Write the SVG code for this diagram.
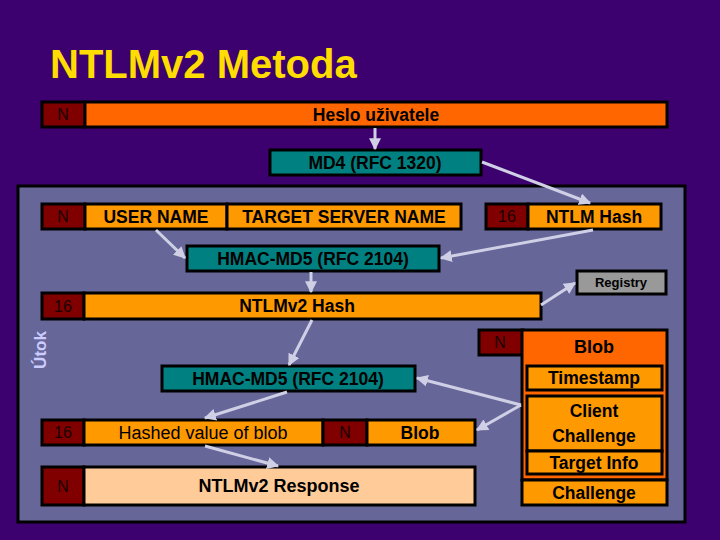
<svg xmlns="http://www.w3.org/2000/svg" width="720" height="540" viewBox="0 0 720 540">
<defs>
<marker id="ah" viewBox="0 0 10 10" refX="9" refY="5" markerWidth="4" markerHeight="4" orient="auto" markerUnits="strokeWidth">
<path d="M0,0 L10,5 L0,10 z" fill="#cfcfe6"/>
</marker>
<style>
.bx{stroke:#000;stroke-width:3}
.dr{fill:#800000}
.or{fill:#ff9900}
.oo{fill:#ff6600}
.tl{fill:#008080}
.gr{fill:#999999}
.pk{fill:#ffcc99}
text{font-family:"Liberation Sans",Arial,sans-serif;text-anchor:middle;dominant-baseline:central}
.b{font-weight:bold;font-size:17.5px;fill:#000}
.n{font-size:16px;fill:#1a0000}
.r{font-size:18px;fill:#000}
.c line{stroke:#cfcfe6;stroke-width:3;marker-end:url(#ah)}
</style>
</defs>
<rect width="720" height="540" fill="#3d006f"/>
<text x="50" y="78" style="font-size:40px;font-weight:bold;fill:#ffdd00;text-anchor:start;dominant-baseline:auto">NTLMv2 Metoda</text>

<g id="panel"><rect x="18" y="186" width="667" height="336" fill="#666699" class="bx"/>
<text transform="translate(40,350) rotate(-90)" style="font-size:17px;font-weight:bold;fill:#ccccff">Útok</text></g>

<g id="heslo">
<rect x="42" y="102" width="43" height="25" class="bx dr"/><text x="63" y="114.5" class="n">N</text>
<rect x="85" y="102" width="582" height="25" class="bx oo"/><text x="376" y="114.5" class="b">Heslo uživatele</text>
</g>
<g id="md4"><rect x="270" y="150" width="211" height="25" class="bx tl"/><text x="375" y="162.5" class="b">MD4 (RFC 1320)</text></g>

<g id="user">
<rect x="42" y="204" width="43" height="25" class="bx dr"/><text x="63" y="216.5" class="n">N</text>
<rect x="85" y="204" width="142" height="25" class="bx or"/><text x="156" y="216.5" class="b">USER NAME</text>
<rect x="227" y="204" width="234" height="25" class="bx or"/><text x="344" y="216.5" class="b">TARGET SERVER NAME</text>
</g>
<g id="ntlmhash">
<rect x="486" y="204" width="42" height="25" class="bx dr"/><text x="507" y="216.5" class="n">16</text>
<rect x="528" y="204" width="133" height="25" class="bx or"/><text x="594" y="216.5" class="b">NTLM Hash</text>
</g>
<g id="hmac1"><rect x="187" y="246" width="252" height="25" class="bx tl"/><text x="313" y="258.5" class="b">HMAC-MD5 (RFC 2104)</text></g>
<g id="registry"><rect x="577" y="271" width="89" height="23" class="bx gr"/><text x="621" y="282.5" style="font-size:13px;font-weight:bold;fill:#000">Registry</text></g>
<g id="ntlmv2hash">
<rect x="42" y="293" width="42" height="26" class="bx dr"/><text x="63" y="306" class="n">16</text>
<rect x="84" y="293" width="457" height="26" class="bx or"/><text x="297" y="306" class="b">NTLMv2 Hash</text>
</g>
<g id="blob">
<rect x="479" y="330" width="44" height="25" class="bx dr"/><text x="500" y="342.5" class="n">N</text>
<rect x="522" y="330" width="145" height="150" class="bx oo"/><text x="594" y="347" class="b" style="font-size:18px">Blob</text>
<rect x="527" y="366" width="135" height="24" class="bx or"/><text x="594" y="378" class="b">Timestamp</text>
<rect x="527" y="396" width="135" height="55" class="bx or"/><text x="594" y="411" class="b">Client</text><text x="594" y="436" class="b">Challenge</text>
<rect x="527" y="451" width="135" height="23" class="bx or"/><text x="594" y="462.5" class="b">Target Info</text>
</g>
<g id="challenge"><rect x="522" y="480" width="145" height="25" class="bx or"/><text x="594" y="492.5" class="b">Challenge</text></g>
<g id="hmac2"><rect x="162" y="366" width="253" height="25" class="bx tl"/><text x="288" y="378.5" class="b">HMAC-MD5 (RFC 2104)</text></g>
<g id="hashed">
<rect x="42" y="420" width="42" height="25" class="bx dr"/><text x="63" y="432.5" class="n">16</text>
<rect x="84" y="420" width="239" height="25" class="bx or"/><text x="203" y="432.5" class="r">Hashed value of blob</text>
<rect x="323" y="420" width="44" height="25" class="bx dr"/><text x="345" y="432.5" class="n">N</text>
<rect x="367" y="420" width="108" height="25" class="bx or"/><text x="420" y="432.5" class="b">Blob</text>
</g>
<g id="response">
<rect x="42" y="467" width="42" height="38" class="bx dr"/><text x="63" y="486" class="n">N</text>
<rect x="84" y="467" width="391" height="38" class="bx pk"/><text x="279" y="486" class="b" style="font-size:18px">NTLMv2 Response</text>
</g>

<g id="connectors" class="c">
<line x1="375" y1="128" x2="375" y2="149"/>
<line x1="482" y1="162" x2="590" y2="203"/>
<line x1="156" y1="230" x2="185" y2="258"/>
<line x1="593" y1="230" x2="441" y2="258"/>
<line x1="311" y1="272" x2="311" y2="292"/>
<line x1="541" y1="305" x2="575" y2="283"/>
<line x1="312" y1="320" x2="289" y2="365"/>
<line x1="521" y1="405" x2="417" y2="378"/>
<line x1="521" y1="405" x2="477" y2="430"/>
<line x1="287" y1="392" x2="205" y2="418"/>
<line x1="205" y1="446" x2="278" y2="466"/>
</g>
</svg>
